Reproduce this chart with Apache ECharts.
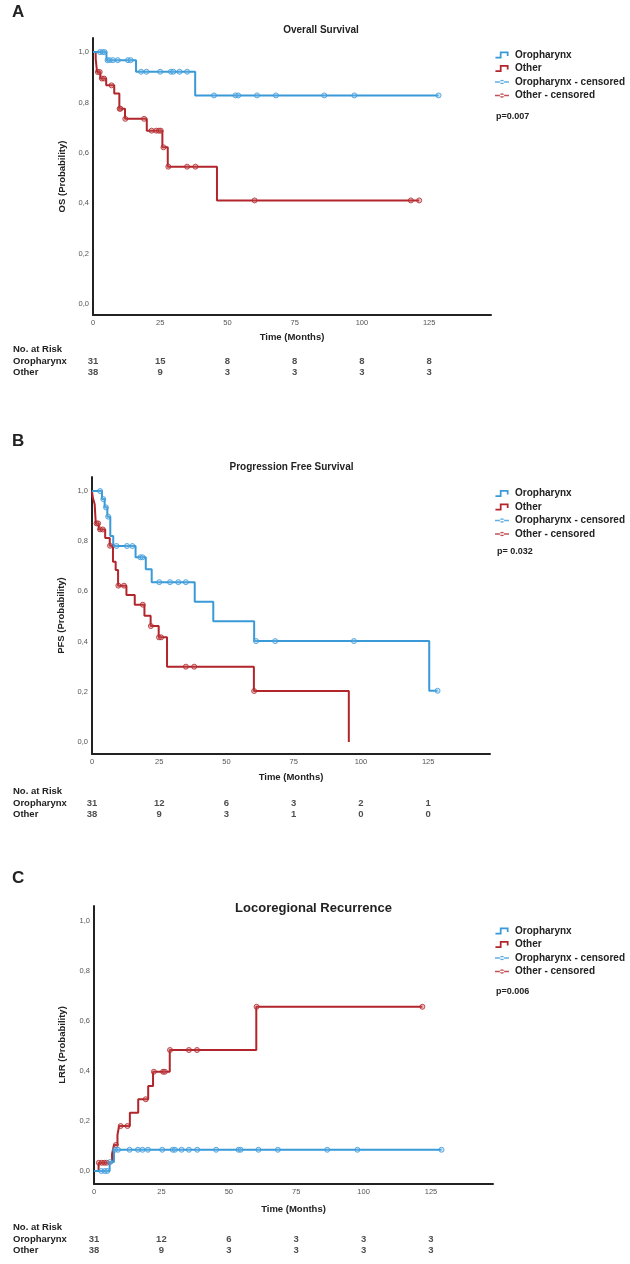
<!DOCTYPE html>
<html>
<head>
<meta charset="utf-8">
<title>Survival curves</title>
<script src="https://cdn.jsdelivr.net/npm/echarts@6/dist/echarts.min.js"></script>
<style>
  html, body { margin: 0; padding: 0; background: #fff; }
  #chart { width: 630px; height: 1264px; }
</style>
</head>
<body>
<div id="chart"></div>
<script>
// axis ticks
const xTicks = [0, 25, 50, 75, 100, 125];
const yTicks = [0, 0.2, 0.4, 0.6, 0.8, 1.0];
const riskRows = ['Other', 'Oropharynx'];

// A - overall survival: [month, probability] at each event
const osOro = [[0, 1], [5, 0.968], [16, 0.922], [38, 0.828], [128.5, 0.828]];
const osOroCens = [2.6, 3.6, 4.3, 5.4, 6.2, 7.4, 9.2, 13, 14, 17.9, 19.9, 25, 29, 29.9, 32.2, 35, 45, 53, 54, 61, 68, 86, 97.2, 128.5];
const osOther = [[0, 1], [1.0, 0.974], [1.5, 0.921], [2.7, 0.895], [4.9, 0.868], [7.9, 0.836], [9.8, 0.775], [11.9, 0.735], [20, 0.688], [25.8, 0.622], [27.8, 0.545], [46.1, 0.411], [121.3, 0.411]];
const osOtherCens = [1.8, 2.5, 3.3, 4.1, 6.9, 9.9, 10.2, 12, 19, 21.8, 23.5, 24.5, 25.2, 26.2, 28, 35, 38.1, 60.1, 118.2, 121.3];
const osRiskOro = [31, 15, 8, 8, 8, 8];
const osRiskOther = [38, 9, 3, 3, 3, 3];

// B - progression free survival
const pfsOro = [[0, 1], [3.7, 0.968], [4.7, 0.935], [5.7, 0.898], [6.8, 0.821], [7.9, 0.781], [16.2, 0.736], [20, 0.688], [22.2, 0.637], [38.2, 0.559], [45.1, 0.481], [60.3, 0.402], [125.4, 0.204], [128.5, 0.204]];
const pfsOroCens = [3.0, 4.2, 5.2, 6.0, 9.1, 13, 15, 18, 18.8, 25, 29, 32.1, 34.9, 61, 68.1, 97.4, 128.5];
const pfsOther = [[0, 1], [0.3, 0.974], [1.0, 0.947], [1.4, 0.871], [2.5, 0.847], [4.9, 0.813], [6.6, 0.782], [7.8, 0.718], [8.8, 0.685], [9.7, 0.623], [12.8, 0.586], [15.9, 0.547], [19.5, 0.503], [21.8, 0.462], [24.8, 0.417], [27.9, 0.300], [60.2, 0.203], [95.5, 0.0]];
const pfsOtherCens = [1.7, 2.3, 3.0, 4.0, 6.7, 9.8, 11.9, 18.9, 21.9, 24.9, 25.7, 34.9, 38, 60.3];
const pfsRiskOro = [31, 12, 6, 3, 2, 1];
const pfsRiskOther = [38, 9, 3, 1, 0, 0];

// C - locoregional recurrence (cumulative)
const lrrOro = [[0, 0], [5.8, 0.036], [7.4, 0.085], [128.9, 0.085]];
const lrrOroCens = [2.7, 4.0, 4.9, 6.0, 7.8, 8.9, 13.2, 16.3, 18, 20, 25.3, 29.2, 30, 32.5, 35.2, 38.3, 45.3, 53.6, 54.4, 61, 68.2, 86.5, 97.7, 128.9];
const lrrOther = [[0, 0], [1.7, 0.033], [6.7, 0.068], [7.4, 0.104], [8.7, 0.144], [9.3, 0.18], [13.3, 0.233], [16.4, 0.287], [20.1, 0.34], [21.9, 0.397], [28.1, 0.484], [60.2, 0.657], [121.8, 0.657]];
const lrrOtherCens = [1.8, 2.9, 3.8, 4.7, 8.1, 9.9, 12.4, 19.2, 22.2, 25.6, 26.3, 28.2, 35.2, 38.2, 60.3, 121.8];
const lrrRiskOro = [31, 12, 6, 3, 3, 3];
const lrrRiskOther = [38, 9, 3, 3, 3, 3];

const BLUE = '#3a9ad8';
const RED = '#b1252b';
const FONT = '"Liberation Sans", Arial, sans-serif';
const STEP_ICON = 'path://M0,7L5,7L5,1L15,1L15,6L13,6L13,3L7,3L7,9L0,9Z';
const CENS_ICON = 'path://M0,0M16,8M0,3.2L16,3.2L16,4.8L0,4.8Z M5.5,4A2.5,2.5,0,1,0,10.5,4A2.5,2.5,0,1,0,5.5,4Z';

// layout of the three panels
const panels = [
  { letter: 'A', title: 'Overall Survival', titleX: 321, titleY: 30, titleFont: 'bold 10px', yName: 'OS (Probability)', p: 'p=0.007',
    left: 93, top: 38, width: 398, height: 277, yMin: -0.044, yMax: 1.056, letterY: 12,
    legendTop: 48.5, pX: 496, pY: 117, riskY: 349, riskTop: 355.5, gapX: 17, gapY: 24,
    oro: osOro, oroCens: osOroCens, other: osOther, otherCens: osOtherCens, riskOro: osRiskOro, riskOther: osRiskOther },
  { letter: 'B', title: 'Progression Free Survival', titleX: 291.5, titleY: 467, titleFont: 'bold 10px', yName: 'PFS (Probability)', p: 'p= 0.032',
    left: 92, top: 477, width: 398, height: 277, yMin: -0.048, yMax: 1.056, letterY: 441,
    legendTop: 487, pX: 497, pY: 552, riskY: 791, riskTop: 797.5, gapX: 18, gapY: 24,
    oro: pfsOro, oroCens: pfsOroCens, other: pfsOther, otherCens: pfsOtherCens, riskOro: pfsRiskOro, riskOther: pfsRiskOther },
  { letter: 'C', title: 'Locoregional Recurrence', titleX: 313.5, titleY: 908, titleFont: 'bold 13px', yName: 'LRR (Probability)', p: 'p=0.006',
    left: 94, top: 906, width: 399, height: 278, yMin: -0.052, yMax: 1.06, letterY: 878,
    legendTop: 924.5, pX: 496, pY: 992, riskY: 1227, riskTop: 1233.5, gapX: 20, gapY: 27,
    oro: lrrOro, oroCens: lrrOroCens, other: lrrOther, otherCens: lrrOtherCens, riskOro: lrrRiskOro, riskOther: lrrRiskOther }
];

// value of a step curve at time t
function stepValue(curve, t) {
  let v = curve[0][1];
  curve.forEach(([time, val]) => { if (time <= t) v = val; });
  return v;
}

const option = {
  animation: false,
  backgroundColor: '#fff',
  grid: [], xAxis: [], yAxis: [], series: [], legend: [], graphic: []
};

const txt = (text, x, y, font, opts) => ({
  type: 'text',
  style: Object.assign({ text, x, y, font: font + ' ' + FONT, fill: '#222',
    align: 'left', verticalAlign: 'middle', textAlign: 'left', textVerticalAlign: 'middle' }, opts || {})
});

panels.forEach((p, i) => {
  const g = i * 2, r = i * 2 + 1;
  option.grid.push({ left: p.left, top: p.top, width: p.width, height: p.height, outerBoundsMode: 'none' });
  option.grid.push({ left: p.left, top: p.riskTop, width: p.width, height: 22, outerBoundsMode: 'none' });

  option.xAxis.push({
    gridIndex: g, type: 'value', min: 0, max: 148,
    name: 'Time (Months)', nameLocation: 'middle', nameGap: p.gapX,
    nameTextStyle: { fontSize: 9.5, fontWeight: 'bold', color: '#222', fontFamily: FONT },
    axisLine: { show: true, onZero: false, lineStyle: { color: '#222', width: 2 } },
    axisTick: { show: false }, splitLine: { show: false },
    axisLabel: { customValues: xTicks, margin: 4, fontSize: 7.5, color: '#555', fontFamily: FONT }
  });
  option.xAxis.push({ gridIndex: r, type: 'value', min: 0, max: 148, show: false });

  option.yAxis.push({
    gridIndex: g, type: 'value', min: p.yMin, max: p.yMax,
    name: p.yName, nameLocation: 'middle', nameGap: p.gapY, nameRotate: 90,
    nameTextStyle: { fontSize: 9.5, fontWeight: 'bold', color: '#222', fontFamily: FONT },
    axisLine: { show: true, onZero: false, lineStyle: { color: '#222', width: 2 } },
    axisTick: { show: false }, splitLine: { show: false },
    axisLabel: { customValues: yTicks, margin: 4, fontSize: 7.5, color: '#555', fontFamily: FONT,
      formatter: v => v.toFixed(1).replace('.', ',') }
  });
  option.yAxis.push({
    gridIndex: r, type: 'category', data: riskRows,
    axisLine: { show: false }, axisTick: { show: false }, splitLine: { show: false },
    axisLabel: { interval: 0, hideOverlap: false, align: 'left', margin: p.left - 13,
      fontSize: 9.5, fontWeight: 'bold', color: '#222', fontFamily: FONT }
  });

  option.series.push({
    type: 'line', name: 'Other', xAxisIndex: g, yAxisIndex: g, data: p.other, step: 'end',
    showSymbol: false, lineStyle: { color: RED, width: 2 }, itemStyle: { color: RED }, z: 3
  });
  option.series.push({
    type: 'line', name: 'Oropharynx', xAxisIndex: g, yAxisIndex: g, data: p.oro, step: 'end',
    showSymbol: false, lineStyle: { color: BLUE, width: 2 }, itemStyle: { color: BLUE }, z: 3
  });
  option.series.push({
    type: 'scatter', name: 'Other - censored', xAxisIndex: g, yAxisIndex: g,
    data: p.otherCens.map(t => [t, stepValue(p.other, t)]), symbolSize: 5,
    itemStyle: { color: 'rgba(200,90,90,0.45)', borderColor: RED, borderWidth: 1 }, z: 4
  });
  option.series.push({
    type: 'scatter', name: 'Oropharynx - censored', xAxisIndex: g, yAxisIndex: g,
    data: p.oroCens.map(t => [t, stepValue(p.oro, t)]), symbolSize: 5,
    itemStyle: { color: 'rgba(120,185,235,0.45)', borderColor: BLUE, borderWidth: 1 }, z: 4
  });

  // numbers at risk
  const riskData = xTicks.map((t, k) => [t, 'Oropharynx', p.riskOro[k]])
    .concat(xTicks.map((t, k) => [t, 'Other', p.riskOther[k]]));
  option.series.push({
    type: 'scatter', xAxisIndex: r, yAxisIndex: r, data: riskData, symbolSize: 1, silent: true,
    itemStyle: { color: 'rgba(0,0,0,0)' },
    label: { show: true, position: 'inside', formatter: d => d.value[2],
      fontSize: 9.5, fontWeight: 'bold', color: '#222', fontFamily: FONT }
  });

  // legend box has 5px padding by default
  option.legend.push({
    orient: 'vertical', left: 490, top: p.legendTop - 5, itemWidth: 16, itemHeight: 7, itemGap: 0.5,
    selectedMode: false, itemStyle: { borderWidth: 0 }, lineStyle: { width: 0 },
    textStyle: { fontSize: 10, fontWeight: 'bold', color: '#222', fontFamily: FONT, lineHeight: 13 },
    data: [
      { name: 'Oropharynx', icon: STEP_ICON, itemStyle: { color: BLUE } },
      { name: 'Other', icon: STEP_ICON, itemStyle: { color: RED } },
      { name: 'Oropharynx - censored', icon: CENS_ICON, itemStyle: { color: BLUE } },
      { name: 'Other - censored', icon: CENS_ICON, itemStyle: { color: RED } }
    ]
  });

  option.graphic.push(txt(p.letter, 12, p.letterY, 'bold 17px'));
  option.graphic.push(txt(p.title, p.titleX, p.titleY, p.titleFont, { align: 'center', textAlign: 'center' }));
  option.graphic.push(txt(p.p, p.pX, p.pY, 'bold 9px'));
  option.graphic.push(txt('No. at Risk', 13, p.riskY, 'bold 9.5px'));
});

const chart = echarts.init(document.getElementById('chart'), null, { renderer: 'canvas' });
chart.setOption(option);
window.addEventListener('resize', () => chart.resize());
</script>
</body>
</html>
